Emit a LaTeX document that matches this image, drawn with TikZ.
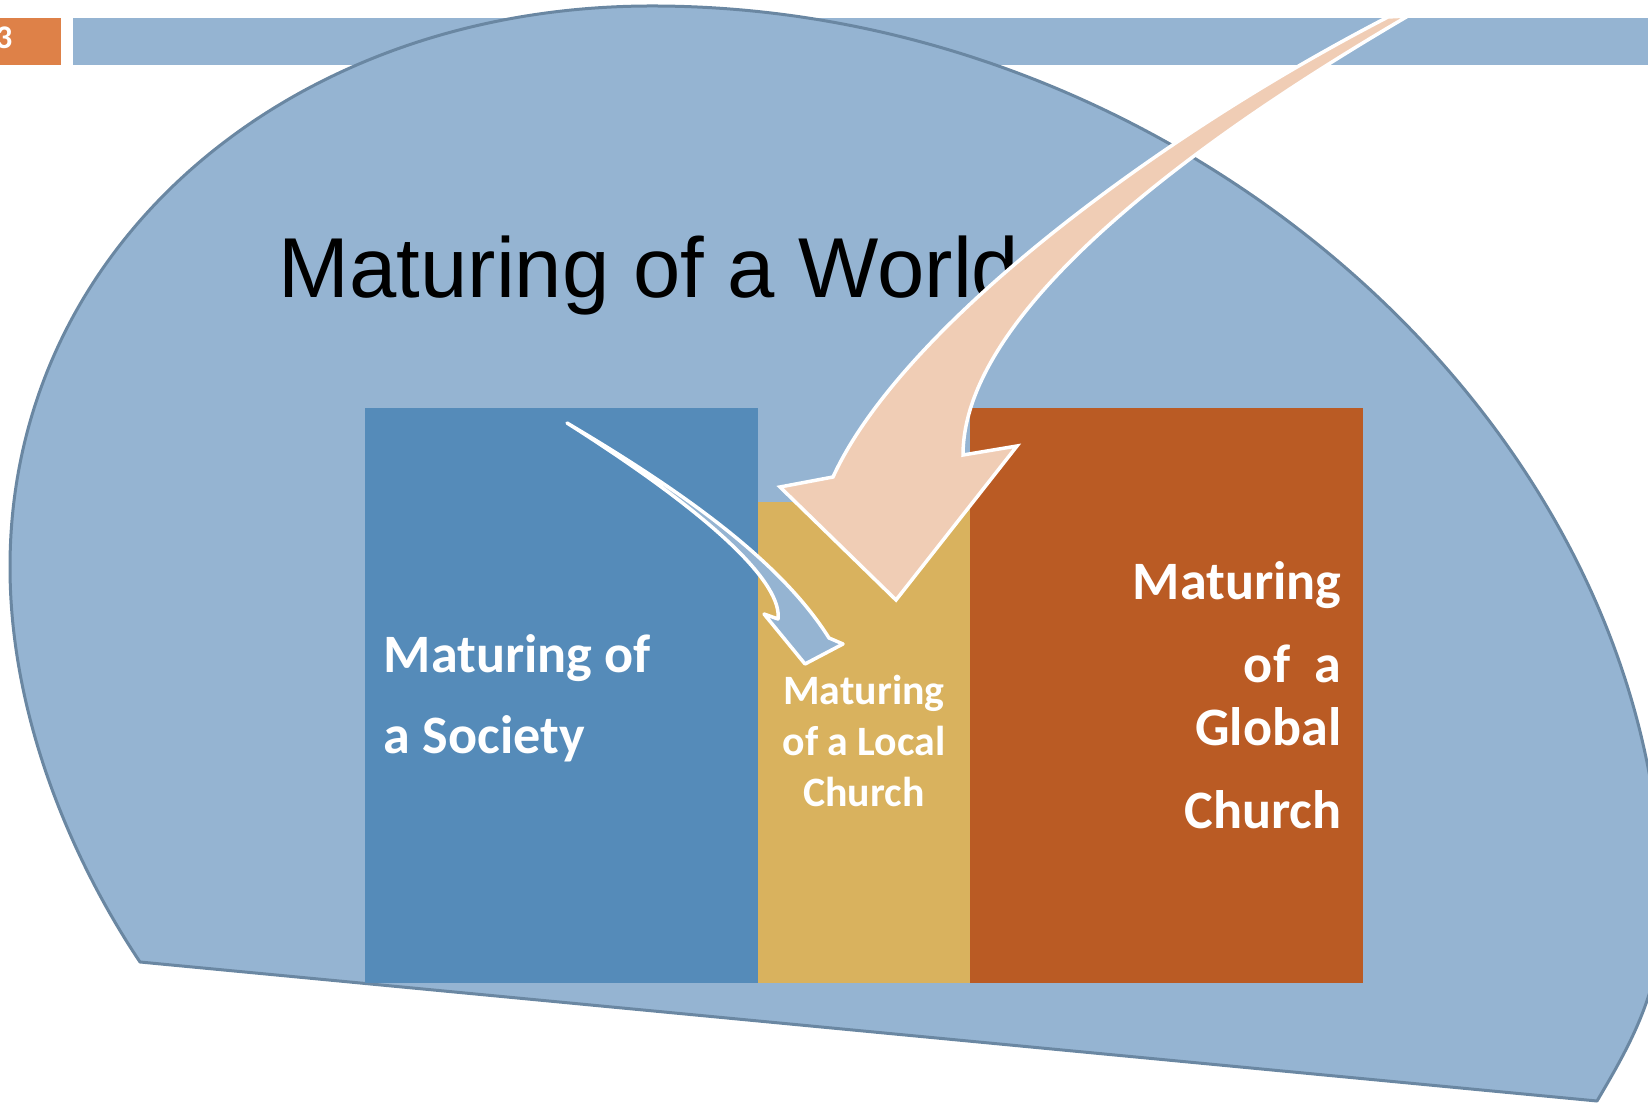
\documentclass[tikz,border=0pt]{standalone}
\usepackage{fontspec}
\setmainfont{Carlito}
\newfontfamily\titlefont{Liberation Sans}
\usetikzlibrary{positioning}
\definecolor{WorldBlue}{RGB}{149,180,210}
\definecolor{WorldEdge}{RGB}{106,135,162}
\definecolor{SocietyBlue}{RGB}{85,139,185}
\definecolor{LocalGold}{RGB}{217,178,94}
\definecolor{GlobalRust}{RGB}{186,91,36}
\definecolor{ArrowPeach}{RGB}{240,205,181}
\definecolor{PageOrange}{RGB}{222,129,72}

\begin{document}
\begin{tikzpicture}[x=0.1mm, y=-0.1mm,
    box/.style={rectangle, inner sep=0pt, outer sep=0pt, draw=none},
    lbl/.style={text=white, inner sep=0pt},
    blockarrow/.style={draw=white, line width=0.35mm}
  ]
  \clip (0,0) rectangle (1648,1103);

  % Header strip
  \fill[PageOrange] (0,18) rectangle (61,65);
  \node[lbl, anchor=base east, font=\bfseries\fontsize{9.4pt}{11pt}\selectfont] (pagenum) at (13,49) {3};
  \fill[WorldBlue] (73,18) rectangle (1648,65);

  % The world
  \filldraw[fill=WorldBlue, draw=WorldEdge, line width=0.3mm, line join=round]
    (140,962) .. controls (75,865) and (10,720) .. (10,567)
    .. controls (10,245) and (290,6) .. (652,6)
    .. controls (1187,6) and (1662,431) .. (1662,910)
    .. controls (1662,990) and (1630,1045) .. (1597,1101)
    -- cycle;
  \node[anchor=base west, inner sep=0pt, font=\titlefont\fontsize{24.2pt}{29pt}\selectfont] (title) at (278,298) {Maturing of a World};

  % Society, local church, global church
  \node[box, fill=SocietyBlue, minimum width=39.3mm, minimum height=57.5mm, anchor=north west] (society) at (365,408) {};
  \node[box, fill=LocalGold, minimum width=21.2mm, minimum height=48.1mm, anchor=south west] (local) at (society.south east) {};
  \node[box, fill=GlobalRust, minimum width=39.3mm, minimum height=57.5mm, anchor=south west] (global) at (local.south east) {};

  % (base anchor sits on the last line)
  \node[lbl, anchor=base west, align=left, font=\bfseries\fontsize{15.4pt}{22.8pt}\selectfont] (societytxt) at (383,753) {Maturing of\\a Society};
  \node[lbl, anchor=base, align=center, font=\bfseries\fontsize{11.9pt}{14.6pt}\selectfont] (localtxt) at (864,807) {Maturing\\of a Local\\Church};
  \node[lbl, anchor=base east, align=right, font=\bfseries\fontsize{15.4pt}{17.9pt}\selectfont] (globaltxt) at (1342,828) {Maturing\\[2mm] of\ \ a\\ Global\\[2mm] Church};

  % Society feeding the local church
  \filldraw[blockarrow, fill=WorldBlue, line join=round]
    (567,423) .. controls (680,490) and (780,560) .. (829,638)
    -- (843,644) -- (805,664) -- (764,614) -- (778,619)
    .. controls (782,585) and (720,520) .. (567,423) -- cycle;

  % Global church coming down to the local one
  \filldraw[blockarrow, fill=ArrowPeach]
    (1388,17) .. controls (1150,140) and (900,330) .. (833,477)
    -- (780,487) -- (896,600) -- (1017,446) -- (963,455)
    .. controls (963,300) and (1230,120) .. (1408,16) -- cycle;
\end{tikzpicture}
\end{document}
